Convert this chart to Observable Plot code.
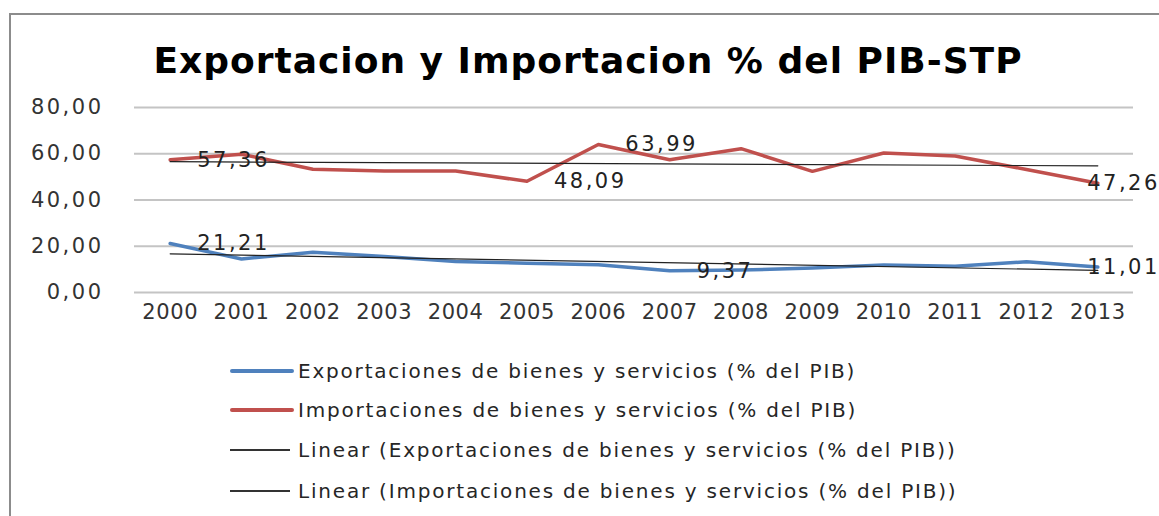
<!DOCTYPE html>
<html>
<head>
<meta charset="utf-8">
<script src="https://cdn.jsdelivr.net/npm/d3@7"></script>
<script src="https://cdn.jsdelivr.net/npm/@observablehq/plot@0.6"></script>
<style>
  html, body { margin: 0; padding: 0; background: #fff; }
  body { width: 1159px; height: 516px; position: relative; overflow: hidden; font-family: "DejaVu Sans", sans-serif; }
  #frame { position: absolute; left: 9px; top: 13px; width: 1200px; height: 600px; border-left: 2px solid #8c8c8c; border-top: 2px solid #8c8c8c; }
  #title { position: absolute; left: 0; top: 0; width: 1159px; height: 92px; text-align: center; }
  #title span { position: absolute; left: 588px; top: 43px; transform: translateX(-50%); white-space: nowrap; font-family: "DejaVu Sans", sans-serif; font-weight: bold; font-size: 36px; letter-spacing: 1px; color: #000; line-height: 1; }
  #chart { position: absolute; left: 0; top: 92px; }
  #legend { position: absolute; left: 0; top: 337px; width: 1159px; }
  .row { position: absolute; left: 0; height: 24px; width: 1159px; }
  .sw { position: absolute; left: 230px; }
  .lab { position: absolute; left: 298px; top: 0; font-size: 20px; letter-spacing: 1.8px; color: #262626; white-space: nowrap; line-height: 24px; }
</style>
</head>
<body>
<div id="frame"></div>
<div id="title"><span>Exportacion y Importacion % del PIB-STP</span></div>
<div id="chart"></div>
<div id="legend"></div>
<script>
// ---- data ----
const years = [2000, 2001, 2002, 2003, 2004, 2005, 2006, 2007, 2008, 2009, 2010, 2011, 2012, 2013];
const exportaciones = [21.21, 14.5, 17.4, 15.6, 13.4, 12.7, 12.0, 9.37, 9.7, 10.6, 11.9, 11.3, 13.3, 11.01];
const importaciones = [57.36, 59.8, 53.3, 52.5, 52.5, 48.09, 63.99, 57.4, 62.2, 52.4, 60.3, 59.0, 53.2, 47.26];
const yTicks = [0, 20, 40, 60, 80];
const serieExp = "Exportaciones de bienes y servicios (% del PIB)";
const serieImp = "Importaciones de bienes y servicios (% del PIB)";
const legendLabels = [
  serieExp,
  serieImp,
  "Linear (" + serieExp + ")",
  "Linear (" + serieImp + ")"
];
// years that carry a data label
const labelYearsExp = [2000, 2007, 2013];
const labelYearsImp = [2000, 2005, 2006, 2013];

const colExp = "#4f81bd";
const colImp = "#c0504d";

const fmt = v => v.toFixed(2).replace(".", ",");

const expData = years.map((x, i) => ({x, y: exportaciones[i]}));
const impData = years.map((x, i) => ({x, y: importaciones[i]}));
const labels = [
  ...expData.filter(d => labelYearsExp.includes(d.x)),
  ...impData.filter(d => labelYearsImp.includes(d.x))
];
const lastYear = years[years.length - 1];

const plot = Plot.plot({
  width: 1159,
  height: 245,
  marginTop: 15,
  marginBottom: 45,
  marginLeft: 134,
  marginRight: 26,
  style: { fontFamily: "DejaVu Sans, sans-serif", background: "transparent", overflow: "visible" },
  x: { domain: [years[0] - 0.5, lastYear + 0.5], ticks: years, tickFormat: d => String(d), label: null },
  y: { domain: [0, 80], ticks: yTicks, tickFormat: fmt, label: null },
  marks: [
    Plot.gridY(yTicks, { stroke: "#c4c4c4", strokeOpacity: 1, strokeWidth: 2 }),
    Plot.axisY({ ticks: yTicks, tickFormat: fmt, tickSize: 0, tickPadding: 31, fontSize: 21, fill: "#333", label: null }),
    Plot.axisX({ ticks: years, tickFormat: d => String(d), tickSize: 0, tickPadding: 12, fontSize: 21, fill: "#333", label: null }),
    Plot.line(impData, { x: "x", y: "y", stroke: colImp, strokeWidth: 3.5 }),
    Plot.line(expData, { x: "x", y: "y", stroke: colExp, strokeWidth: 3.5 }),
    Plot.linearRegressionY(impData, { x: "x", y: "y", stroke: "#222", strokeWidth: 1.2, ci: 0 }),
    Plot.linearRegressionY(expData, { x: "x", y: "y", stroke: "#222", strokeWidth: 1.2, ci: 0 }),
    Plot.text(labels.filter(d => d.x !== lastYear), { x: "x", y: "y", text: d => fmt(d.y), textAnchor: "start", dx: 27, fontSize: 21, fill: "#222" }),
    Plot.text(labels.filter(d => d.x === lastYear), { x: "x", y: "y", text: d => fmt(d.y), textAnchor: "end", dx: 62, fontSize: 21, fill: "#222" })
  ]
});
const svg = d3.select(plot);
svg.selectAll("g[aria-label='y-axis tick label'] text").attr("letter-spacing", "2.5px");
svg.selectAll("g[aria-label='x-axis tick label'] text").attr("letter-spacing", "0.6px");
svg.selectAll("g[aria-label='text'] text").attr("letter-spacing", "2.5px");
document.getElementById("chart").appendChild(plot);

// ---- legend ----
const legend = document.getElementById("legend");
const swatches = [
  { color: colExp, w: 64, h: 4 },
  { color: colImp, w: 64, h: 4 },
  { color: "#333", w: 60, h: 1.5 },
  { color: "#333", w: 60, h: 1.5 }
];
const rowCenters = [34, 73, 113, 154];
legendLabels.forEach((t, i) => {
  const row = document.createElement("div");
  row.className = "row";
  row.style.top = (rowCenters[i] - 12) + "px";
  const sw = document.createElement("div");
  sw.className = "sw";
  sw.style.width = swatches[i].w + "px";
  sw.style.height = swatches[i].h + "px";
  sw.style.top = (12 - swatches[i].h / 2) + "px";
  sw.style.background = swatches[i].color;
  if (i < 2) sw.style.borderRadius = "2px";
  const lab = document.createElement("div");
  lab.className = "lab";
  lab.textContent = t;
  row.appendChild(sw);
  row.appendChild(lab);
  legend.appendChild(row);
});
</script>
</body>
</html>
